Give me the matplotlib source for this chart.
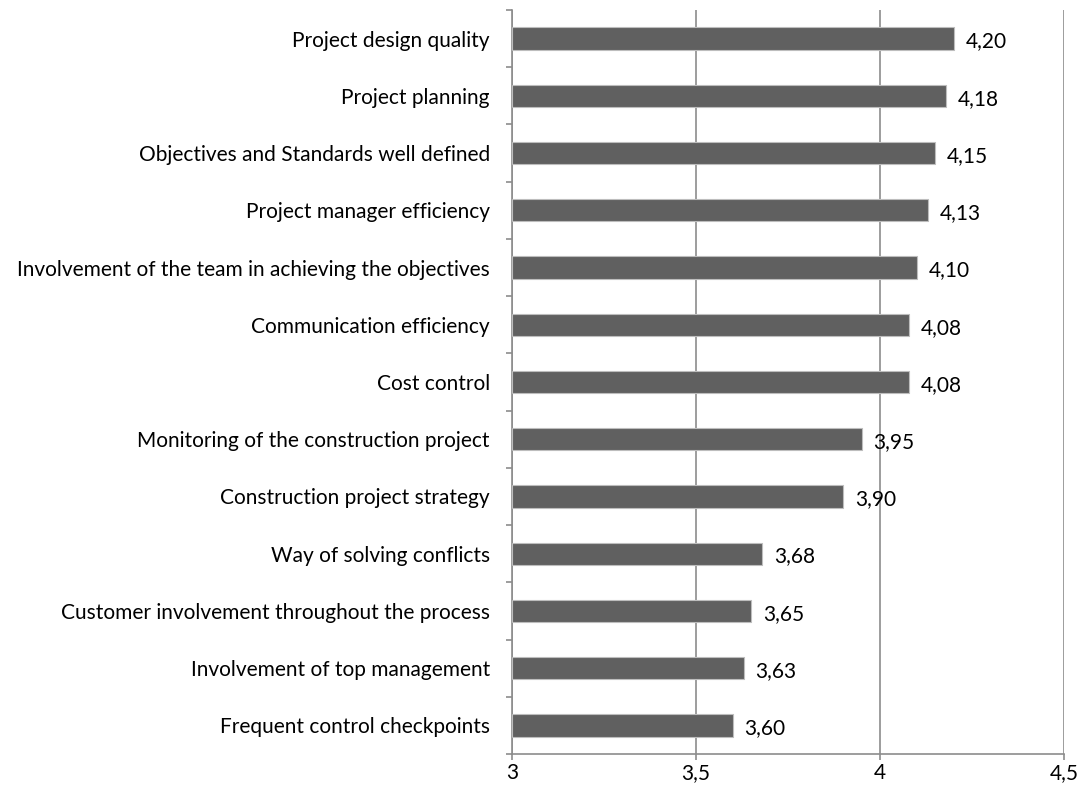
import matplotlib.pyplot as plt
from matplotlib.ticker import FixedLocator, NullFormatter

categories = [
    "Project design quality",
    "Project planning",
    "Objectives and Standards well defined",
    "Project manager efficiency",
    "Involvement of the team in achieving the objectives",
    "Communication efficiency",
    "Cost control",
    "Monitoring of the construction project",
    "Construction project strategy",
    "Way of solving conflicts",
    "Customer involvement throughout the process",
    "Involvement of top management",
    "Frequent control checkpoints",
]
values = [4.20, 4.18, 4.15, 4.13, 4.10, 4.08, 4.08, 3.95, 3.90, 3.68, 3.65, 3.63, 3.60]
x_ticks = [3, 3.5, 4, 4.5]
x_tick_labels = ["3", "3,5", "4", "4,5"]

plt.rcParams["font.family"] = ["Lato", "DejaVu Sans"]
fs = 15

fig = plt.figure(figsize=(10.83, 8.05), dpi=100)
ax = fig.add_axes([512 / 1083, 1 - 754 / 805, (1064 - 512) / 1083, (754 - 10) / 805])

n = len(categories)
ypos = list(range(n))[::-1]
ax.barh(ypos, [v - 3 for v in values], left=3, height=0.39,
        color="#606060", edgecolor="#bdbdbd", linewidth=0.8, zorder=3)

for y, v in zip(ypos, values):
    ax.text(v + 0.032, y - 0.05, f"{v:.2f}".replace(".", ","), va="center", ha="left",
            fontsize=fs, color="#000000", zorder=4)

ax.set_xlim(3, 4.5)
ax.set_ylim(-0.5, n - 0.5)
ax.set_xticks(x_ticks)
ax.set_xticklabels(x_tick_labels, fontsize=fs)
ax.xaxis.grid(True, color="#8c8c8c", linewidth=1.2, zorder=0)
ax.tick_params(axis="x", length=4.5, width=1.2, color="#8c8c8c", pad=2)

ax.set_yticks(ypos)
ax.set_yticklabels(categories, fontsize=fs)
ax.tick_params(axis="y", which="major", length=0, pad=16)
ax.yaxis.set_minor_locator(FixedLocator([i + 0.5 for i in range(-1, n)]))
ax.yaxis.set_minor_formatter(NullFormatter())
ax.tick_params(axis="y", which="minor", length=4.5, width=1.2, color="#8c8c8c")

for s in ["top", "right"]:
    ax.spines[s].set_visible(False)
for s in ["left", "bottom"]:
    ax.spines[s].set_color("#8c8c8c")
    ax.spines[s].set_linewidth(1.2)

fig.savefig("out.png", dpi=100)
